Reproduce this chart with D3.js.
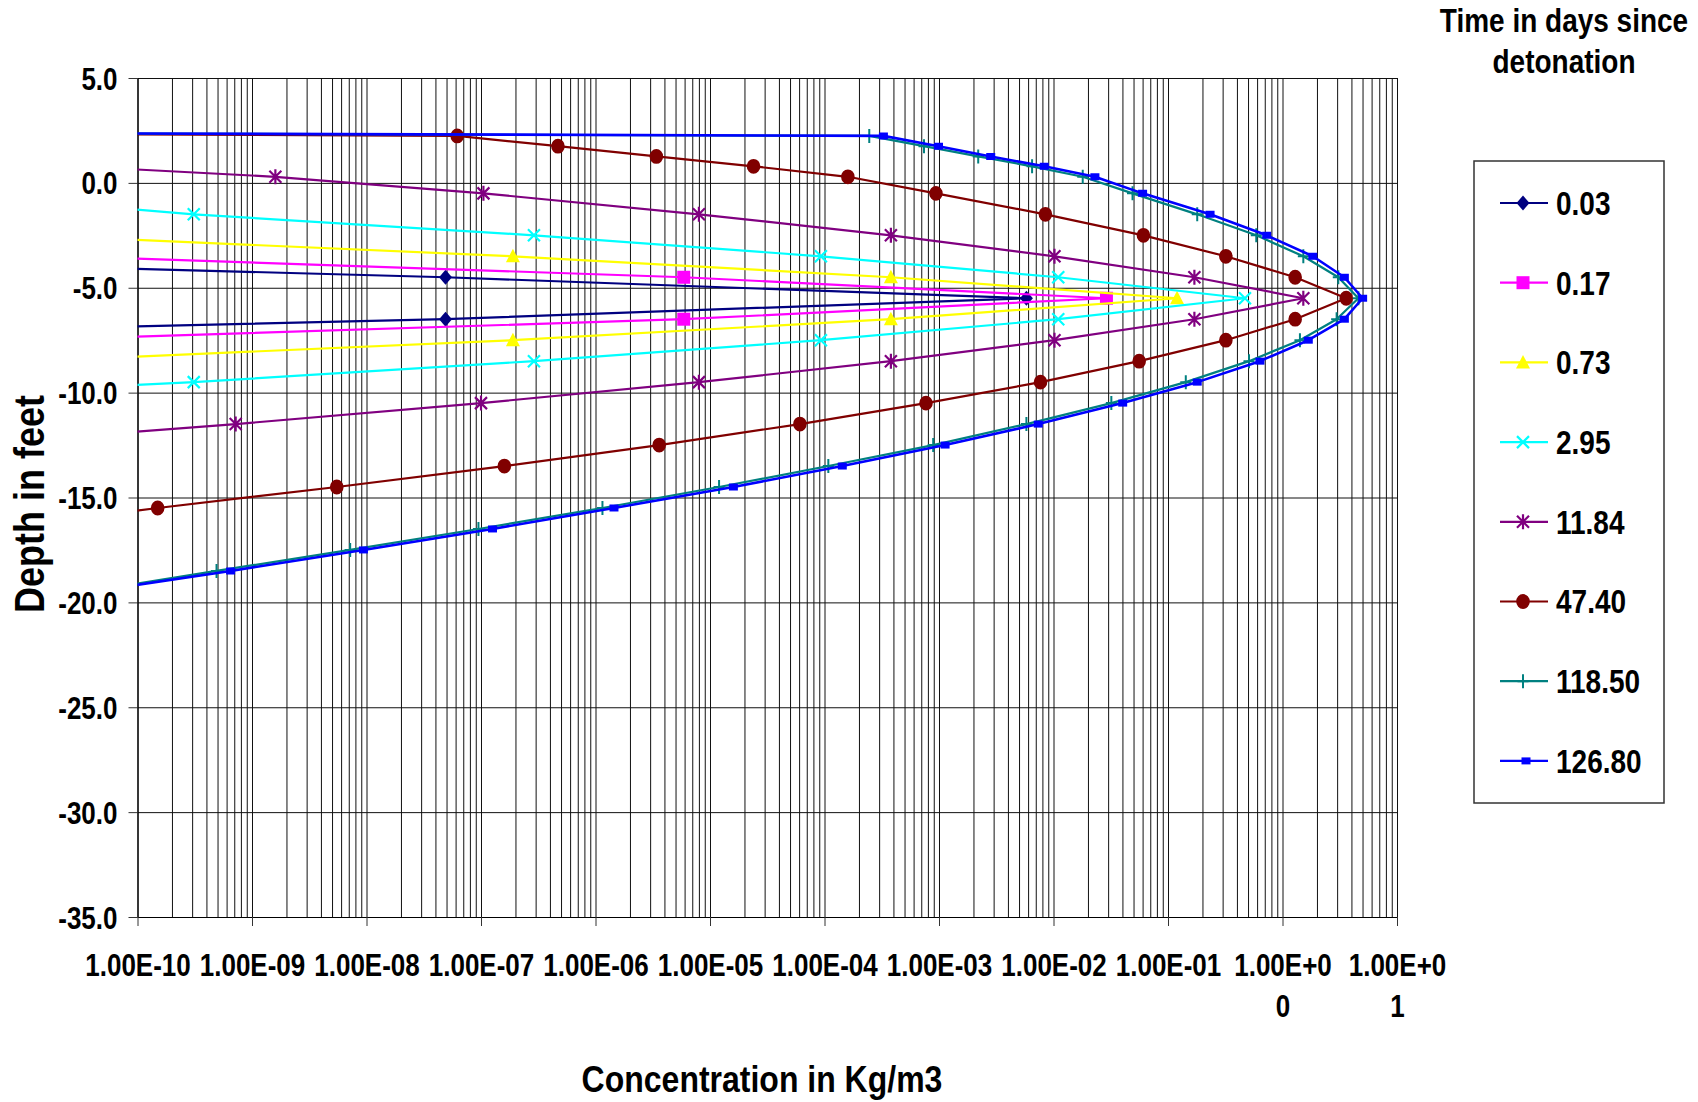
<!DOCTYPE html>
<html>
<head>
<meta charset="utf-8">
<script src="https://cdn.jsdelivr.net/npm/d3@7"></script>
<style>
  html, body { margin: 0; padding: 0; background: #ffffff; }
  svg text { font-family: "Liberation Sans", Arial, Helvetica, sans-serif; font-weight: bold; fill: #000; }
</style>
</head>
<body>
<svg id="chart" width="1698" height="1102"></svg>
<script>
// Depth of each sample point (feet); concentrations below are aligned with it (null = no sample).
const depths = [2.38, 2.24, 1.75, 1.26, 0.79, 0.29, -0.5, -1.5, -2.5, -3.5, -4.5, -5.5, -6.5,
                -7.5, -8.5, -9.5, -10.5, -11.5, -12.5, -13.5, -14.5, -15.5, -16.5, -17.5, -18.5, -19.5];
const _ = null;

// Concentration profiles (Kg/m3), one per elapsed time
const conc_0_03   = [_, _, _, _, _, _, _, _, _, 1e-14, 4.9e-8, 5.8e-3, 4.9e-8, 5e-16,
                     _, _, _, _, _, _, _, _, _, _, _, _];
const conc_0_17   = [_, _, _, _, _, _, _, _, _, 2.6e-11, 5.9e-6, 2.9e-2, 5.9e-6, 1.05e-11,
                     _, _, _, _, _, _, _, _, _, _, _, _];
const conc_0_73   = [_, _, _, _, _, _, _, _, 1.2e-11, 1.9e-7, 3.8e-4, 0.12, 3.8e-4, 1.9e-7,
                     1.2e-11, _, _, _, _, _, _, _, _, _, _, _];
const conc_2_95   = [_, _, _, _, _, _, 1.8e-12, 3.1e-10, 2.9e-7, 9.3e-5, 1.1e-2, 0.47, 1.1e-2, 9.3e-5,
                     2.9e-7, 3.1e-10, 5e-14, _, _, _, _, _, _, _, _, _];
const conc_11_84  = [_, _, _, _, 2.9e-11, 1.6e-9, 1.05e-7, 8.0e-6, 3.8e-4, 1.02e-2, 0.17, 1.52, 0.17, 1.02e-2,
                     3.8e-4, 8.0e-6, 1.0e-7, 7.2e-10, 3e-12, _, _, _, _, _, _, _];
const conc_47_40  = [1.6e-13, 6.2e-8, 4.7e-7, 3.4e-6, 2.4e-5, 1.6e-4, 9.4e-4, 8.5e-3, 6.1e-2, 0.32, 1.29, 3.6, 1.29, 0.32,
                     5.6e-2, 7.7e-3, 7.7e-4, 6.1e-5, 3.6e-6, 1.6e-7, 5.5e-9, 1.5e-10, 5e-12, _, _, _];
const conc_118_50 = [2e-12, 2.46e-4, 7.4e-4, 2.2e-3, 6.5e-3, 1.8e-2, 4.9e-2, 0.18, 0.59, 1.52, 3.07, 4.6, 2.97, 1.42,
                     0.51, 0.143, 3.2e-2, 5.8e-3, 8.9e-4, 1.08e-4, 1.2e-5, 1.15e-6, 9.5e-8, 7.2e-9, 4.9e-10, 3.5e-11];
const conc_126_80 = [4.7e-12, 3.27e-4, 9.9e-4, 2.83e-3, 8.3e-3, 2.3e-2, 6.0e-2, 0.233, 0.728, 1.84, 3.47, 5.01, 3.47, 1.68,
                     0.635, 0.180, 4.02e-2, 7.36e-3, 1.13e-3, 1.43e-4, 1.6e-5, 1.45e-6, 1.26e-7, 9.4e-9, 6.5e-10, 3.8e-11];

const seriesNames  = ["0.03", "0.17", "0.73", "2.95", "11.84", "47.40", "118.50", "126.80"];
const seriesValues = [conc_0_03, conc_0_17, conc_0_73, conc_2_95, conc_11_84, conc_47_40, conc_118_50, conc_126_80];

// Axis ticks
const xTickValues = [1e-10, 1e-9, 1e-8, 1e-7, 1e-6, 1e-5, 1e-4, 1e-3, 1e-2, 1e-1, 1e0, 1e1];
const xTickLabels = ["1.00E-10", "1.00E-09", "1.00E-08", "1.00E-07", "1.00E-06", "1.00E-05",
                     "1.00E-04", "1.00E-03", "1.00E-02", "1.00E-01", "1.00E+00", "1.00E+01"];
const yTickValues = [5, 0, -5, -10, -15, -20, -25, -30, -35];

// Series appearance
const seriesColors  = ["#000080", "#FF00FF", "#FFFF00", "#00FFFF", "#800080", "#800000", "#008080", "#0000FF"];
const seriesMarkers = ["diamond", "square", "triangle", "cross", "asterisk", "circle", "plus", "smallsquare"];

// Text is set tall and narrow: glyphs are enlarged by TALL and squeezed back horizontally.
const TALL = 1.18;
const SQ = 1 / TALL;

const svg = d3.select("#chart");
const plot = { left: 137.5, right: 1397, top: 78, bottom: 917 };

const x = d3.scaleLog().domain([1e-10, 10]).range([plot.left, plot.right]);
const y = d3.scaleLinear().domain([5, -35]).range([plot.top, plot.bottom]);

// every 1..9 x 10^n gridline across the log axis
const minorTicks = [];
for (let e = -10; e <= 0; e++) for (let k = 1; k <= 9; k++) minorTicks.push(k * Math.pow(10, e));
minorTicks.push(10);

const grid = svg.append("g").attr("class", "grid");
grid.append("g")
  .attr("transform", `translate(0,${plot.bottom})`)
  .call(d3.axisBottom(x).tickValues(minorTicks).tickSize(-(plot.bottom - plot.top)).tickFormat("").tickSizeOuter(0))
  .call(g => g.select(".domain").remove())
  .call(g => g.selectAll("line").attr("stroke", "#111").attr("stroke-width", 1));
grid.append("g")
  .attr("transform", `translate(${plot.left},0)`)
  .call(d3.axisLeft(y).tickValues(yTickValues).tickSize(-(plot.right - plot.left)).tickFormat("").tickSizeOuter(0))
  .call(g => g.select(".domain").remove())
  .call(g => g.selectAll("line").attr("stroke", "#111").attr("stroke-width", 1));

// Y axis
svg.append("g")
  .attr("transform", `translate(${plot.left},0)`)
  .call(d3.axisLeft(y).tickValues(yTickValues).tickSize(9).tickSizeOuter(0).tickPadding(11)
        .tickFormat(d => d.toFixed(1)))
  .call(g => g.select(".domain").attr("stroke", "#000").attr("stroke-width", 1.2))
  .call(g => g.selectAll(".tick line").attr("stroke", "#333"))
  .call(g => g.selectAll("text")
    .attr("font-size", 26 * TALL).attr("font-family", null).attr("dy", "0.36em")
    .attr("x", -20 / SQ).attr("transform", `scale(${SQ},1)`));

// X axis; the positive-exponent labels wrap after seven characters
svg.append("g")
  .attr("transform", `translate(0,${plot.bottom})`)
  .call(d3.axisBottom(x).tickValues(xTickValues).tickSize(9).tickSizeOuter(0)
        .tickFormat((d, i) => xTickLabels[i]))
  .call(g => g.select(".domain").attr("stroke", "#000").attr("stroke-width", 1.2))
  .call(g => g.selectAll(".tick line").attr("stroke", "#333"))
  .call(g => g.selectAll("text").each(function () {
    const t = d3.select(this);
    const label = t.text();
    t.text(null).attr("y", null).attr("dy", null).attr("font-size", 26 * TALL)
      .attr("font-family", null).attr("transform", `scale(${SQ},1)`);
    const parts = label.includes("+") ? [label.slice(0, 7), label.slice(7)] : [label];
    parts.forEach((p, j) => t.append("tspan").attr("x", 0).attr("y", 59 + j * 41).text(p));
  }));

// Axis titles
svg.append("text")
  .attr("transform", `translate(762,1092) scale(${SQ},1)`)
  .attr("text-anchor", "middle").attr("font-size", 32 * TALL)
  .text("Concentration in Kg/m3");
svg.append("text")
  .attr("transform", `translate(44,504) rotate(-90) scale(${SQ},1)`)
  .attr("text-anchor", "middle").attr("font-size", 36 * TALL)
  .text("Depth in feet");

// Marker shapes
function markerPath(type) {
  switch (type) {
    case "diamond":     return "M0,-7.5L6.5,0L0,7.5L-6.5,0Z";
    case "square":      return "M-6.5,-6.5H6.5V6.5H-6.5Z";
    case "triangle":    return "M0,-7.5L7,6H-7Z";
    case "cross":       return "M-6,-6L6,6M-6,6L6,-6";
    case "asterisk":    return "M-6,-6L6,6M-6,6L6,-6M0,-7.5V7.5";
    case "circle":      return "M-6.8,0A6.8,7.4 0 1 0 6.8,0A6.8,7.4 0 1 0 -6.8,0Z";
    case "plus":        return "M-5.5,0H5.5M0,-7V7";
    case "smallsquare": return "M-4.5,-3.5H4.5V3.5H-4.5Z";
  }
}
const strokeMarkers = new Set(["cross", "asterisk", "plus"]);
function styleMarker(sel, type, color) {
  if (strokeMarkers.has(type)) {
    sel.attr("fill", "none").attr("stroke", color).attr("stroke-width", type === "plus" ? 2 : 2.2);
  } else {
    sel.attr("fill", color).attr("stroke", "none");
  }
}

// Data series, clipped to the plotting area
svg.append("clipPath").attr("id", "plot-clip")
  .append("rect")
  .attr("x", plot.left).attr("y", plot.top)
  .attr("width", plot.right - plot.left).attr("height", plot.bottom - plot.top);

const dataLayer = svg.append("g").attr("clip-path", "url(#plot-clip)");
const line = d3.line().x(d => x(d.c)).y(d => y(d.d));

seriesNames.forEach((name, si) => {
  const pts = depths.map((d, i) => ({ d, c: seriesValues[si][i] })).filter(p => p.c !== null);
  const color = seriesColors[si];
  dataLayer.append("path")
    .datum(pts)
    .attr("fill", "none")
    .attr("stroke", color)
    .attr("stroke-width", si === 7 ? 2.6 : 2.2)
    .attr("stroke-linejoin", "round")
    .attr("d", line);
  const visible = pts.filter(p => p.c >= 1e-10);
  const m = dataLayer.append("g").selectAll("path")
    .data(visible).join("path")
    .attr("transform", p => `translate(${x(p.c)},${y(p.d)})`)
    .attr("d", markerPath(seriesMarkers[si]));
  styleMarker(m, seriesMarkers[si], color);
});

// Legend
const legend = svg.append("g");
legend.append("rect")
  .attr("x", 1474).attr("y", 161).attr("width", 190).attr("height", 642)
  .attr("fill", "#fff").attr("stroke", "#333").attr("stroke-width", 1.5);
["Time in days since", "detonation"].forEach((s, i) => {
  legend.append("text")
    .attr("transform", `translate(1564,${32 + i * 41}) scale(${SQ},1)`)
    .attr("text-anchor", "middle").attr("font-size", 28 * TALL)
    .text(s);
});

seriesNames.forEach((name, si) => {
  const ry = 203 + si * 79.7;
  const row = legend.append("g").attr("transform", `translate(0,${ry})`);
  row.append("line").attr("x1", 1500).attr("x2", 1548).attr("y1", 0).attr("y2", 0)
    .attr("stroke", seriesColors[si]).attr("stroke-width", 2.2);
  const mx = seriesMarkers[si] === "smallsquare" ? 1526 : 1523;
  const m = row.append("path").attr("transform", `translate(${mx},0)`).attr("d", markerPath(seriesMarkers[si]));
  styleMarker(m, seriesMarkers[si], seriesColors[si]);
  row.append("text")
    .attr("transform", `translate(1556,0) scale(${SQ},1)`)
    .attr("dy", "0.36em")
    .attr("font-size", 28 * TALL).text(name);
});
</script>
</body>
</html>
